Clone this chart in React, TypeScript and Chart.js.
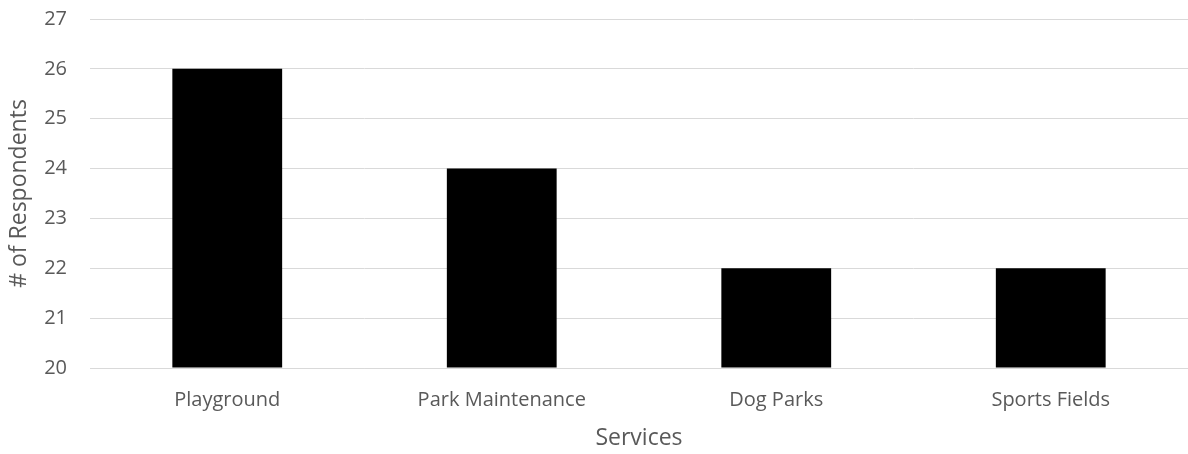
import React, { useEffect, useRef } from "react";
import { Chart, registerables } from "chart.js";

Chart.register(...registerables);

const categories: string[] = ["Playground", "Park Maintenance", "Dog Parks", "Sports Fields"];
const respondents: number[] = [26, 24, 22, 22];
const yTicks: number[] = [20, 21, 22, 23, 24, 25, 26, 27];

const FONT = "'Open Sans', 'Liberation Sans', sans-serif";
const TEXT = "#595959";
const GRID = "#d9d9d9";

export default function App() {
  const ref = useRef<HTMLCanvasElement | null>(null);

  useEffect(() => {
    document.body.style.margin = "0";
    const canvas = ref.current;
    if (!canvas) return;
    const chart = new Chart(canvas, {
      type: "bar",
      data: {
        labels: categories,
        datasets: [
          {
            label: "# of Respondents",
            data: respondents,
            backgroundColor: "#000000",
            borderWidth: 0,
            barPercentage: 0.4,
            categoryPercentage: 1,
            base: 20,
          },
        ],
      },
      options: {
        responsive: false,
        animation: false,
        maintainAspectRatio: false,
        layout: { padding: { top: 0, right: 0, left: 0, bottom: 0 } },
        plugins: { legend: { display: false }, tooltip: { enabled: false } },
        scales: {
          x: {
            grid: { display: false, drawTicks: false },
            border: { display: true, color: GRID, width: 1 },
            ticks: { color: TEXT, font: { family: FONT, size: 20 }, padding: 20 },
            title: {
              display: true,
              text: "Services",
              color: TEXT,
              font: { family: FONT, size: 23 },
              padding: { top: 0, bottom: 2 },
            },
            afterFit: (s: any) => {
              s.height = 86;
            },
          },
          y: {
            min: 20,
            max: 27,
            afterBuildTicks: (s: any) => {
              s.ticks = yTicks.map((v) => ({ value: v }));
            },
            grid: { color: GRID, lineWidth: 1, drawTicks: false },
            border: { display: false },
            ticks: { color: TEXT, font: { family: FONT, size: 20 }, padding: 23 },
            title: {
              display: true,
              text: "# of Respondents",
              color: TEXT,
              font: { family: FONT, size: 23 },
              padding: { top: 6, bottom: 0 },
            },
            afterFit: (s: any) => {
              s.width = 90;
              s.paddingTop = 19;
              s.paddingBottom = 12;
            },
          },
        },
      },
    });
    return () => chart.destroy();
  }, []);

  return (
    <div style={{ width: 1188, height: 454 }}>
      <canvas ref={ref} width={1188} height={454} style={{ width: 1188, height: 454, display: "block" }} />
    </div>
  );
}
